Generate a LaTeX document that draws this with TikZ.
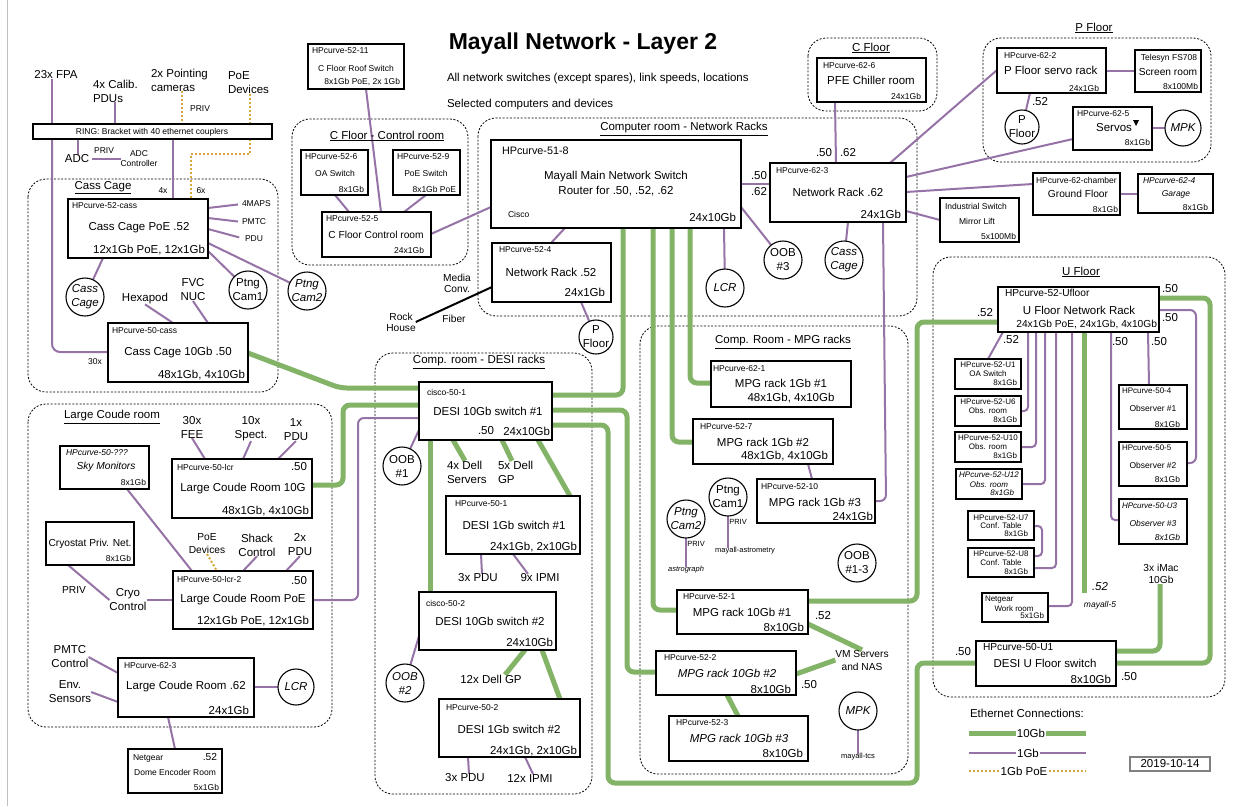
\documentclass[tikz,border=0pt]{standalone}
\usepackage{fontspec}
\setmainfont{Liberation Sans}
\usetikzlibrary{calc}
\definecolor{gre}{HTML}{82B366}
\definecolor{pur}{HTML}{9673A6}
\definecolor{yel}{HTML}{D6A838}
\pgfdeclarelayer{reg}\pgfdeclarelayer{bg}\pgfsetlayers{reg,bg,main}
\newcommand\nbox[6][]{\node[box,#1,minimum width={(#5-#3)*1pt},minimum height={(#6-#4)*1pt}] (#2) at ({(#3+#5)/2},{(#4+#6)/2}) {};}
\newcommand\ncirc[6][fM]{\node[circ,minimum size={2*#5*1pt}] (#2) at (#3,#4) {};\node[txt,align=center,#1] (#2t) at (#3,#4) {#6};}
\newcommand\tlab[5][]{\node[txt,#1] (#2) at (#3,#4) {#5};}
\tikzset{
 box/.style={draw, line width=2.3, inner sep=0, outer sep=0, fill=white},
 thinbox/.style={line width=1.1},
 datebox/.style={draw=gray, line width=1.2},
 circ/.style={circle, draw, line width=1.1, inner sep=0, outer sep=0, fill=white},
 reg/.style={draw, line width=0.8, dash pattern=on 2pt off 1.6pt, rounded corners=18},
 gl/.style={draw=gre, line width=5, rounded corners=7},
 pl/.style={draw=pur, line width=2, rounded corners=6},
 ol/.style={draw=yel, line width=2, dash pattern=on 2pt off 2pt},
 txt/.style={inner sep=0, outer sep=0},
 fM/.style={font=\fontsize{11.5}{14}\selectfont},
 fMi/.style={font=\fontsize{11.5}{14}\selectfont\itshape},
 fH/.style={font=\fontsize{10.8}{13}\selectfont},
 fX/.style={font=\fontsize{10.2}{12.5}\selectfont},
 fXi/.style={font=\fontsize{10.2}{12.5}\selectfont\itshape},
 fS/.style={font=\fontsize{8.5}{10}\selectfont},
 fSi/.style={font=\fontsize{8.5}{10}\selectfont\itshape},
 fU/.style={font=\fontsize{8}{9}\selectfont},
 fUi/.style={font=\fontsize{8}{9}\selectfont\itshape},
 fT/.style={font=\fontsize{7.5}{9}\selectfont},
 fTi/.style={font=\fontsize{7.5}{9}\selectfont\itshape},
}
\begin{document}
\begin{tikzpicture}[x=1pt,y=-1pt]
\useasboundingbox (0,0) rectangle (1250,806);
\begin{pgfonlayer}{reg}
\fill[white] (0,0) rectangle (1250,806);
\draw[gray!50, line width=1] (7,0) -- (7,806);
\draw[reg] (28,179) rectangle (278,392);
\draw[reg] (292,119) rectangle (468,265);
\draw[reg] (478,118) rectangle (917,316);
\draw[reg] (808,38) rectangle (937,111);
\draw[reg] (983,38) rectangle (1211,162);
\draw[reg] (933,257) rectangle (1225,697);
\draw[reg] (640,326) rectangle (908,774);
\draw[reg] (375,353) rectangle (592,794);
\draw[reg] (28,404) rectangle (332,727);
\end{pgfonlayer}

% ---------- titles
\tlab[font=\fontsize{23}{26}\selectfont\bfseries]{title}{583}{44}{Mayall Network - Layer 2}
\tlab[fM,anchor=west]{sub1}{447}{79}{All network switches (except spares), link speeds, locations}
\tlab[fM,anchor=west]{sub2}{447}{105}{Selected computers and devices}

% ---------- top left
\tlab[fM]{fpa}{56}{75}{23x FPA}
\tlab[fM,align=left,anchor=west]{calib}{93}{91}{4x Calib.\\PDUs}
\tlab[fM,align=left,anchor=west]{ptg}{151}{80}{2x Pointing\\cameras}
\tlab[fM,align=left,anchor=west]{poe}{228}{83}{PoE\\Devices}
\tlab[fS]{priv1}{200}{109}{PRIV}
\nbox[thinbox]{ring}{33}{124}{272}{139}
\tlab[fS]{ringt}{152}{132}{RING: Bracket with 40 ethernet couplers}
\tlab[fM]{adc}{77}{159}{ADC}
\tlab[fS]{priv2}{104}{151}{PRIV}
\tlab[fS,align=center]{adcc}{139}{159}{ADC\\Controller}
\tlab[fS]{n4x}{163}{191}{4x}
\tlab[fS]{n6x}{201}{191}{6x}
\tlab[fS]{n30x}{95}{362}{30x}

% ---------- Cass Cage
\tlab[fM]{tCass}{103}{188}{\underline{Cass Cage}}
\nbox{cc52}{68}{199}{208}{258}
\tlab[fS,anchor=west]{cc52h}{72}{206}{HPcurve-52-cass}
\tlab[fM]{cc52n}{139}{228}{Cass Cage PoE .52}
\tlab[fM,anchor=east]{cc52p}{205}{250}{12x1Gb PoE, 12x1Gb}
\tlab[fS,anchor=west]{maps}{242}{204}{4MAPS}
\tlab[fS,anchor=west]{pmtc1}{242}{222}{PMTC}
\tlab[fS,anchor=west]{pdu0}{245}{239}{PDU}
\ncirc[fMi]{ccA}{85}{297}{19}{Cass\\Cage}
\ncirc[fM]{pc1}{248}{290}{19}{Ptng\\Cam1}
\ncirc[fMi]{pc2}{307}{291}{19}{Ptng\\Cam2}
\tlab[fM]{hexa}{145}{299}{Hexapod}
\tlab[fM,align=center]{fvc}{193}{290}{FVC\\NUC}
\nbox{cc50}{108}{323}{248}{382}
\tlab[fS,anchor=west]{cc50h}{112}{331}{HPcurve-50-cass}
\tlab[fM]{cc50n}{178}{353}{Cass Cage 10Gb .50}
\tlab[fM,anchor=east]{cc50p}{245}{375}{48x1Gb, 4x10Gb}

% ---------- C Floor control room
\nbox{sw11}{308}{44}{404}{89}
\tlab[fS,anchor=west]{sw11h}{312}{51}{HPcurve-52-11}
\tlab[fS]{sw11n}{356}{68}{C Floor Roof Switch}
\tlab[fS,anchor=east]{sw11p}{400}{82}{8x1Gb PoE, 2x 1Gb}
\tlab[fM]{tCfc}{387}{136}{\underline{C Floor - Control room}}
\nbox{s526}{301}{150}{368}{195}
\tlab[fS,anchor=west]{s526h}{305}{157}{HPcurve-52-6}
\tlab[fS]{s526n}{335}{173}{OA Switch}
\tlab[fS,anchor=east]{s526p}{364}{189}{8x1Gb}
\nbox{s529}{393}{150}{460}{195}
\tlab[fS,anchor=west]{s529h}{397}{157}{HPcurve-52-9}
\tlab[fS]{s529n}{426}{173}{PoE Switch}
\tlab[fS,anchor=east]{s529p}{456}{189}{8x1Gb PoE}
\nbox{s525}{322}{212}{431}{257}
\tlab[fS,anchor=west]{s525h}{326}{219}{HPcurve-52-5}
\tlab[fX]{s525n}{376}{235}{C Floor Control room}
\tlab[fS,anchor=east]{s525p}{424}{250}{24x1Gb}

% ---------- Computer room
\tlab[fM]{tComp}{684}{129}{\underline{Computer room - Network Racks}}
\nbox{main}{491}{140}{741}{228}
\tlab[fH,anchor=west]{mainh}{502}{151}{HPcurve-51-8}
\tlab[fM]{mainn}{616}{177}{Mayall Main Network Switch}
\tlab[fM]{mainr}{616}{191}{Router for .50, .52, .62}
\tlab[fS,anchor=west]{mainc}{508}{214}{Cisco}
\tlab[fM,anchor=east]{mainp}{736}{217}{24x10Gb}
\nbox{s524}{492}{243}{611}{302}
\tlab[fS,anchor=west]{s524h}{499}{250}{HPcurve-52-4}
\tlab[fM]{s524n}{551}{272}{Network Rack .52}
\tlab[fM,anchor=east]{s524p}{605}{292}{24x1Gb}
\tlab[fX,align=center,font=\fontsize{10.2}{11}\selectfont]{media}{457}{283}{Media\\Conv.}
\tlab[fX,align=center,font=\fontsize{10.2}{11}\selectfont]{rock}{401}{322}{Rock\\House}
\tlab[fX]{fiber}{454}{319}{Fiber}
\ncirc[fM]{pfl1}{596}{337}{17}{P\\Floor}
\ncirc[fMi]{lcrc}{725}{288}{19}{LCR}
\ncirc[fM]{oob3}{783}{260}{19}{OOB\\\#3}
\ncirc[fMi]{ccB}{844}{260}{19}{Cass\\Cage}
\nbox{s623}{770}{163}{906}{222}
\tlab[fS,anchor=west]{s623h}{776}{171}{HPcurve-62-3}
\tlab[fM]{s623n}{838}{192}{Network Rack .62}
\tlab[fM,anchor=east]{s623p}{901}{214}{24x1Gb}
\tlab[fM]{l50a}{759}{176}{.50}
\tlab[fM]{l62a}{759}{192}{.62}
\tlab[fM]{l50b}{824}{153}{.50}
\tlab[fM]{l62b}{848}{153}{.62}

% ---------- C Floor
\tlab[fM]{tCf}{871}{48}{\underline{C Floor}}
\nbox{s626}{817}{58}{926}{102}
\tlab[fS,anchor=west]{s626h}{823}{66}{HPcurve-62-6}
\tlab[fM]{s626n}{871}{80}{PFE Chiller room}
\tlab[fS,anchor=east]{s626p}{921}{96}{24x1Gb}

% ---------- P Floor
\tlab[fM]{tPf}{1094}{28}{\underline{P Floor}}
\nbox{s622}{997}{48}{1106}{93}
\tlab[fS,anchor=west]{s622h}{1004}{56}{HPcurve-62-2}
\tlab[fM,anchor=west]{s622n}{1004}{70}{P Floor servo rack}
\tlab[fS,anchor=east]{s622p}{1099}{88}{24x1Gb}
\nbox{tel}{1135}{50}{1201}{92}
\tlab[fS]{telh}{1169}{58}{Telesyn FS708}
\tlab[fX]{teln}{1168}{72}{Screen room}
\tlab[fS,anchor=east]{telp}{1198}{86}{8x100Mb}
\ncirc[fM]{pfl2}{1022}{127}{17}{P\\Floor}
\tlab[fM]{l52p}{1040}{102}{.52}
\nbox{s625}{1073}{107}{1152}{150}
\tlab[fS,anchor=west]{s625h}{1077}{114}{HPcurve-62-5}
\tlab[fM]{s625n}{1114}{128}{Servos}
\fill (1133,120) -- (1139,120) -- (1136,126) -- cycle;
\tlab[fS,anchor=east]{s625p}{1150}{142}{8x1Gb}
\ncirc[fMi]{mpk1}{1183}{128}{18}{MPK}
\nbox{cham}{1033}{173}{1120}{215}
\tlab[fS,anchor=west]{chamh}{1036}{180}{HPcurve-62-chamber}
\tlab[fX]{chamn}{1078}{194}{Ground Floor}
\tlab[fS,anchor=east]{champ}{1118}{209}{8x1Gb}
\nbox{gar}{1138}{174}{1213}{213}
\tlab[fSi,anchor=west]{garh}{1143}{181}{HPcurve-62-4}
\tlab[fSi]{garn}{1176}{194}{Garage}
\tlab[fS,anchor=east]{garp}{1208}{207}{8x1Gb}
\nbox{ind}{940}{198}{1019}{242}
\tlab[fS]{indh}{976}{206}{Industrial Switch}
\tlab[fS]{indn}{977}{221}{Mirror Lift}
\tlab[fS,anchor=east]{indp}{1016}{236}{5x100Mb}

% ---------- U Floor
\tlab[fM]{tUf}{1081}{272}{\underline{U Floor}}
\nbox{uf}{998}{287}{1159}{332}
\tlab[fX,anchor=west]{ufh}{1005}{293}{HPcurve-52-Ufloor}
\tlab[fM]{ufn}{1079}{310}{U Floor Network Rack}
\tlab[fX,anchor=east]{ufp}{1157}{324}{24x1Gb PoE, 24x1Gb, 4x10Gb}
\tlab[fM]{lu1}{1170}{289}{.50}
\tlab[fM]{lu2}{1170}{318}{.50}
\tlab[fM]{lu3}{985}{313}{.52}
\tlab[fM]{lu4}{1011}{340}{.52}
\tlab[fM]{lu5}{1120}{342}{.50}
\tlab[fM]{lu6}{1159}{342}{.50}
\nbox{u1}{955}{359}{1021}{389}
\tlab[fU]{u1h}{988}{365}{HPcurve-52-U1}
\tlab[fU]{u1n}{988}{374}{OA Switch}
\tlab[fU,anchor=east]{u1p}{1017}{383}{8x1Gb}
\nbox{u6}{955}{396}{1021}{426}
\tlab[fU]{u6h}{988}{402}{HPcurve-52-U6}
\tlab[fU]{u6n}{988}{411}{Obs. room}
\tlab[fU,anchor=east]{u6p}{1017}{420}{8x1Gb}
\nbox{u10}{955}{432}{1021}{462}
\tlab[fU]{u10h}{988}{438}{HPcurve-52-U10}
\tlab[fU]{u10n}{988}{447}{Obs. room}
\tlab[fU,anchor=east]{u10p}{1017}{456}{8x1Gb}
\nbox{u12}{956}{469}{1022}{499}
\tlab[fUi]{u12h}{989}{475}{HPcurve-52-U12}
\tlab[fUi]{u12n}{989}{485}{Obs. room}
\tlab[fUi,anchor=east]{u12p}{1014}{493}{8x1Gb}
\nbox{u7}{968}{511}{1034}{540}
\tlab[fU]{u7h}{1001}{518}{HPcurve-52-U7}
\tlab[fU]{u7n}{1001}{526}{Conf. Table}
\tlab[fU,anchor=east]{u7p}{1028}{534}{8x1Gb}
\nbox{u8}{968}{548}{1034}{577}
\tlab[fU]{u8h}{1001}{554}{HPcurve-52-U8}
\tlab[fU]{u8n}{1001}{563}{Conf. Table}
\tlab[fU,anchor=east]{u8p}{1028}{572}{8x1Gb}
\nbox{ngw}{982}{593}{1048}{622}
\tlab[fU,anchor=west]{ngwh}{985}{600}{Netgear}
\tlab[fU]{ngwn}{1014}{609}{Work room}
\tlab[fU,anchor=east]{ngwp}{1044}{616}{5x1Gb}
\nbox{o1}{1119}{385}{1187}{429}
\tlab[fU,anchor=west]{o1h}{1122}{391}{HPcurve-50-4}
\tlab[fS]{o1n}{1153}{408}{Observer \#1}
\tlab[fS,anchor=east]{o1p}{1180}{424}{8x1Gb}
\nbox{o2}{1119}{442}{1187}{486}
\tlab[fU,anchor=west]{o2h}{1122}{448}{HPcurve-50-5}
\tlab[fS]{o2n}{1153}{465}{Observer \#2}
\tlab[fS,anchor=east]{o2p}{1180}{479}{8x1Gb}
\nbox{o3}{1119}{499}{1187}{544}
\tlab[fUi,anchor=west]{o3h}{1122}{506}{HPcurve-50-U3}
\tlab[fSi]{o3n}{1153}{523}{Observer \#3}
\tlab[fSi,anchor=east]{o3p}{1180}{537}{8x1Gb}
\tlab[fMi]{l52m5}{1100}{587}{.52}
\tlab[fSi]{m5}{1100}{605}{mayall-5}
\tlab[fX,align=center]{imac}{1161}{574}{3x iMac\\10Gb}
\nbox{duf}{976}{641}{1116}{686}
\tlab[fX,anchor=west]{dufh}{983}{647}{HPcurve-50-U1}
\tlab[fM]{dufn}{1045}{663}{DESI U Floor switch}
\tlab[fM,anchor=east]{dufp}{1111}{679}{8x10Gb}
\tlab[fM]{ld1}{963}{652}{.50}
\tlab[fM]{ld2}{1129}{677}{.50}

% ---------- MPG racks
\tlab[fM]{tMpg}{783}{342}{\underline{Comp. Room - MPG racks}}
\nbox{m621}{711}{361}{851}{407}
\tlab[fS,anchor=west]{m621h}{713}{369}{HPcurve-62-1}
\tlab[fM]{m621n}{781}{383}{MPG rack 1Gb \#1}
\tlab[fM]{m621p}{791}{398}{48x1Gb, 4x10Gb}
\nbox{m527}{693}{419}{833}{464}
\tlab[fS,anchor=west]{m527h}{700}{427}{HPcurve-52-7}
\tlab[fM]{m527n}{763}{442}{MPG rack 1Gb \#2}
\tlab[fM,anchor=east]{m527p}{828}{456}{48x1Gb, 4x10Gb}
\nbox{m5210}{757}{479}{875}{523}
\tlab[fS,anchor=west]{m5210h}{761}{487}{HPcurve-52-10}
\tlab[fM]{m5210n}{815}{502}{MPG rack 1Gb \#3}
\tlab[fM,anchor=east]{m5210p}{873}{516}{24x1Gb}
\ncirc[fM]{pc1b}{728}{497}{19}{Ptng\\Cam1}
\ncirc[fMi]{pc2b}{686}{519}{19}{Ptng\\Cam2}
\tlab[fT]{priv3}{738}{522}{PRIV}
\tlab[fT]{astm}{745}{551}{mayall-astrometry}
\tlab[fT]{priv4}{696}{544}{PRIV}
\tlab[fTi]{astg}{686}{570}{astrograph}
\ncirc[fM]{oob13}{857}{563}{19}{OOB\\\#1-3}
\nbox{m521}{677}{590}{808}{634}
\tlab[fS,anchor=west]{m521h}{683}{597}{HPcurve-52-1}
\tlab[fM]{m521n}{742}{612}{MPG rack 10Gb \#1}
\tlab[fM,anchor=east]{m521p}{804}{627}{8x10Gb}
\tlab[fM]{l52mm}{823}{616}{.52}
\tlab[fX,align=center,font=\fontsize{10.2}{13}\selectfont]{vm}{862}{660}{VM Servers\\and NAS}
\nbox{m522}{656}{651}{796}{695}
\tlab[fS,anchor=west]{m522h}{664}{658}{HPcurve-52-2}
\tlab[fMi]{m522n}{727}{673}{MPG rack 10Gb \#2}
\tlab[fM,anchor=east]{m522p}{791}{689}{8x10Gb}
\tlab[fM]{l50mm}{809}{685}{.50}
\nbox{m523}{669}{716}{808}{761}
\tlab[fS,anchor=west]{m523h}{676}{723}{HPcurve-52-3}
\tlab[fMi]{m523n}{739}{738}{MPG rack 10Gb \#3}
\tlab[fM,anchor=east]{m523p}{803}{753}{8x10Gb}
\ncirc[fMi]{mpk2}{858}{711}{19}{MPK}
\tlab[fT]{tcs}{858}{757}{mayall-tcs}

% ---------- DESI racks
\tlab[fM]{tDesi}{479}{362}{\underline{Comp. room - DESI racks}}
\nbox{c501}{419}{382}{552}{440}
\tlab[fS,anchor=west]{c501h}{427}{392}{cisco-50-1}
\tlab[fM]{c501n}{488}{411}{DESI 10Gb switch \#1}
\tlab[fM]{c501a}{486}{431}{.50}
\tlab[fM,anchor=east]{c501p}{550}{431}{24x10Gb}
\ncirc[fM]{oob1}{402}{466}{19}{OOB\\\#1}
\tlab[fM,align=left,anchor=west]{dell4}{447}{472}{4x Dell\\Servers}
\tlab[fM,align=left,anchor=west]{dell5}{498}{472}{5x Dell\\GP}
\nbox{d501}{446}{496}{580}{554}
\tlab[fS,anchor=west]{d501h}{455}{504}{HPcurve-50-1}
\tlab[fM]{d501n}{514}{525}{DESI 1Gb switch \#1}
\tlab[fM,anchor=east]{d501p}{577}{547}{24x1Gb, 2x10Gb}
\tlab[fM]{pdu3a}{478}{578}{3x PDU}
\tlab[fM]{ipmi9}{540}{578}{9x IPMI}
\nbox{c502}{419}{592}{556}{650}
\tlab[fS,anchor=west]{c502h}{426}{603}{cisco-50-2}
\tlab[fM]{c502n}{490}{621}{DESI 10Gb switch \#2}
\tlab[fM,anchor=east]{c502p}{553}{642}{24x10Gb}
\ncirc[fMi]{oob2}{405}{683}{19}{OOB\\\#2}
\tlab[fM]{dell12}{491}{679}{12x Dell GP}
\nbox{d502}{439}{699}{580}{757}
\tlab[fS,anchor=west]{d502h}{446}{708}{HPcurve-50-2}
\tlab[fM]{d502n}{509}{729}{DESI 1Gb switch \#2}
\tlab[fM,anchor=east]{d502p}{577}{751}{24x1Gb, 2x10Gb}
\tlab[fM]{pdu3b}{465}{778}{3x PDU}
\tlab[fM]{ipmi12}{530}{778}{12x IPMI}

% ---------- Large Coude room
\tlab[fM]{tLcr}{112}{417}{\underline{Large Coude room}}
\nbox{sky}{60}{446}{149}{489}
\tlab[fSi,anchor=west]{skyh}{66}{453}{HPcurve-50-???}
\tlab[fXi]{skyn}{106}{467}{Sky Monitors}
\tlab[fS,anchor=east]{skyp}{146}{482}{8x1Gb}
\nbox{lcr}{172}{459}{312}{518}
\tlab[fS,anchor=west]{lcrh}{177}{467}{HPcurve-50-lcr}
\tlab[fM,anchor=east]{lcra}{307}{467}{.50}
\tlab[fM]{lcrn}{243}{489}{Large Coude Room 10G}
\tlab[fM,anchor=east]{lcrp}{309}{511}{48x1Gb, 4x10Gb}
\tlab[fM,align=center]{fee}{192}{427}{30x\\FEE}
\tlab[fM,align=center]{spect}{251}{429}{10x\\Spect.}
\tlab[fM,align=center]{pdu1}{296}{430}{1x\\PDU}
\nbox{cryo}{46}{522}{134}{565}
\tlab[fX]{cryon}{90}{544}{Cryostat Priv. Net.}
\tlab[fS,anchor=east]{cryop}{131}{558}{8x1Gb}
\tlab[fX]{priv5}{74}{590}{PRIV}
\tlab[fM,align=center]{cryoc}{128}{600}{Cryo\\Control}
\tlab[fX,align=center,font=\fontsize{10.2}{13}\selectfont]{poed}{207}{544}{PoE\\Devices}
\tlab[fM,align=center]{shack}{257}{545}{Shack\\Control}
\tlab[fM,align=center]{pdu2}{300}{545}{2x\\PDU}
\nbox{lcr2}{173}{571}{313}{629}
\tlab[fS,anchor=west]{lcr2h}{177}{579}{HPcurve-50-lcr-2}
\tlab[fM,anchor=east]{lcr2a}{307}{581}{.50}
\tlab[fM]{lcr2n}{243}{600}{Large Coude Room PoE}
\tlab[fM,anchor=east]{lcr2p}{309}{621}{12x1Gb PoE, 12x1Gb}
\tlab[fM,align=center]{pmtc2}{70}{657}{PMTC\\Control}
\tlab[fM,align=center]{env}{70}{692}{Env.\\Sensors}
\nbox{lcr62}{118}{658}{254}{717}
\tlab[fS,anchor=west]{lcr62h}{124}{666}{HPcurve-62-3}
\tlab[fM]{lcr62n}{186}{687}{Large Coude Room .62}
\tlab[fM,anchor=east]{lcr62p}{249}{710}{24x1Gb}
\ncirc[fMi]{lcrc2}{296}{687}{18}{LCR}
\nbox{dome}{128}{749}{222}{793}
\tlab[fS,anchor=west]{domeh}{133}{758}{Netgear}
\tlab[fX,anchor=east]{domea}{217}{757}{.52}
\tlab[fS]{domen}{175}{772}{Dome Encoder Room}
\tlab[fS,anchor=east]{domep}{219}{787}{5x1Gb}

% ---------- legend
\tlab[fM,anchor=west]{legt}{970}{713}{Ethernet Connections:}
\coordinate (lg1a) at (969,733); \coordinate (lg1b) at (1086,733);
\coordinate (lg2a) at (969,753); \coordinate (lg2b) at (1086,753);
\coordinate (lg3a) at (969,771); \coordinate (lg3b) at (1086,771);
\tlab[fM,fill=white,inner xsep=1]{lg10}{1031}{733}{10Gb}
\tlab[fM,fill=white,inner xsep=1]{lg1}{1028}{753}{1Gb}
\tlab[fM,fill=white,inner xsep=1]{lg1p}{1024}{771}{1Gb PoE}
\nbox[datebox]{date}{1130}{757}{1210}{771}
\tlab[fM]{datet}{1170}{764}{2019-10-14}

% ================= connectors
\begin{pgfonlayer}{bg}
% top left
\draw[pl] (fpa.south -| 52,0) -- (ring.north -| 52,0);
\draw[pl,rounded corners=8] (ring.south -| 52,0) |- (cc50.west |- 0,352);
\draw[pl] (calib.south -| 115,0) -- (ring.north -| 115,0);
\draw[ol] (ptg.south -| 182,0) -- (ring.north -| 182,0);
\draw[ol] (poe.south -| 250,0) -- (ring.north -| 250,0);
\draw[ol] (ring.south -| 250,0) -- (250,154) -- (191,154) -- (cc52.north -| 191,0);
\draw[pl] (ring.south -| 173,0) -- (cc52.north -| 173,0);
\draw[pl] (ring.south -| 78,0) -- (adc.north -| 78,0);
\draw[pl,shorten <=3] (adc.east) -- (adcc.west |- adc.east);
% cass cage
\draw[pl,shorten >=4] (cc52.east |- 0,208) -- (maps.west);
\draw[pl,shorten >=4] (cc52.east |- 0,218) -- (pmtc1.west);
\draw[pl,shorten >=6] (cc52.east |- 0,229) -- (pdu0.west);
\draw[pl] (cc52.east |- 0,251) -- (pc1);
\draw[pl] (cc52.east |- 0,243) -- (pc2);
\draw[pl] (cc52.south -| 103,0) -- (ccA);
\draw[pl] (hexa.south) -- (cc50.north -| 173,0);
\draw[pl] (fvc.south) -- (cc50.north -| 208,0);
\draw[gl] (cc50.east |- 0,353) -- (340,388) -- (c501.west |- 0,388);
% c floor / computer room
\draw[pl] (sw11.south -| 366,0) -- (s525.north -| 381,0);
\draw[pl] (s526.south -| 335,0) -- (s525.north -| 349,0);
\draw[pl] (s529.south -| 426,0) -- (s525.north -| 404,0);
\draw[pl] (s525.east |- 0,234) -- (main.west |- 0,207);
\draw[pl] (main.south -| 565,0) -- (s524.north -| 551,0);
\draw[pl] (s524.south -| 581,0) -- (pfl1);
\draw[black, line width=2] (s524.west |- 0,287) -- (rock.east);
\draw[pl] (main.south -| 724,0) -- (lcrc);
\draw[pl] (main.east |- 0,207) -- (oob3);
\draw[pl] (main.east |- 0,184) -- (s623.west |- 0,184);
\draw[pl] (s626.south -| 835,0) -- (s623.north -| 836,0);
\draw[pl] (s623.south -| 848,0) -- (ccB);
\draw[pl] (s623.north -| 890,0) -- (s622.west |- 0,70);
\draw[pl] (s623.east |- 0,177) -- (s625.west |- 0,139);
\draw[pl] (s623.east |- 0,192) -- (cham.west |- 0,184);
\draw[pl] (s623.east |- 0,211) -- (ind.west |- 0,220);
\draw[pl] (s622.east |- 0,71) -- (tel.west |- 0,71);
\draw[pl] (s622.south -| 1030,0) -- (pfl2);
\draw[pl] (s625.east |- 0,128) -- (mpk1);
\draw[pl] (cham.east |- 0,194) -- (gar.west |- 0,194);
\draw[pl] (s623.south -| 883,0) -- (886,501) -- (m5210.east |- 0,501);
% U floor
\draw[pl] (uf.south -| 1003,0) -- (u1.north -| 988,0);
\draw[pl,rounded corners=4] (uf.south -| 1028,0) |- (u6.east |- 0,411);
\draw[pl,rounded corners=4] (uf.south -| 1036,0) |- (u10.east |- 0,447);
\draw[pl,rounded corners=4] (uf.south -| 1045,0) |- (u12.east |- 0,484);
\draw[pl,rounded corners=4] (u7.east |- 0,526) -- (1042,526) -- (1042,556) -- (u8.east |- 0,556);
\draw[pl,rounded corners=4] (uf.south -| 1056,0) |- (u8.east |- 0,568);
\draw[pl,rounded corners=4] (uf.south -| 1072,0) |- (ngw.east |- 0,606);
\coordinate (m5end) at (1084,593);
\draw[gl] (uf.south -| 1084,0) -- (m5end);
\draw[pl,rounded corners=4] (uf.south -| 1111,0) |- (o3.west |- 0,520);
\draw[pl] (uf.south -| 1148,0) -- (o1.north -| 1149,0);
\draw[pl] (uf.east |- 0,310) -- (1196,310) -- (1196,463) -- (o2.east |- 0,463);
\draw[gl] (uf.east |- 0,298) -- (1210,298) -- (1210,663) -- (duf.east |- 0,663);
\draw[gl] (duf.east |- 0,651) -- (1160,651) -- (imac.south -| 1160,0);
\draw[gl] (m521.east |- 0,601) -- (917,601) -- (917,322) -- (uf.west |- 0,322);
% green trunks
\draw[gl] (c501.east |- 0,425) -- (608,425) -- (608,783) -- (917,783) -- (917,663) -- (duf.west |- 0,663);
\draw[gl] (c501.east |- 0,395) -- (623,395) -- (main.south -| 623,0);
\draw[gl] (c501.east |- 0,410) -- (627,410) -- (627,672) -- (m522.west |- 0,672);
\draw[gl] (main.south -| 653,0) -- (653,610) -- (m521.west |- 0,610);
\draw[gl] (main.south -| 672,0) -- (672,442) -- (m527.west |- 0,442);
\draw[gl] (main.south -| 690,0) -- (690,383) -- (m621.west |- 0,383);
% MPG
\draw[gl] (m521.east |- 0,624) -- (vm.north);
\draw[gl] (m522.east |- 0,674) -- (vm.west);
\draw[gl] (m522.south -| 727,0) -- (m523.north -| 738,0);
\draw[pl] (pc1b) -- (astm.north -| pc1b);
\draw[pl] (pc2b) -- (astg.north -| pc2b);
\draw[pl] (mpk2) -- (tcs.north -| mpk2);
\draw[pl] (m527.south -| 808,0) -- (m5210.north -| 812,0);
% DESI
\draw[gl] (lcr.east |- 0,485) -- (343,485) -- (343,405) -- (c501.west |- 0,405);
\draw[pl] (lcr2.east |- 0,600) -- (358,600) -- (358,418) -- (c501.west |- 0,418);
\draw[pl] (c501.west |- 0,430) -- (oob1);
\draw[gl] (c501.south -| 453,0) -- (dell4.north -| 465,0);
\draw[gl] (c501.south -| 502,0) -- (dell5.north -| 512,0);
\draw[gl] (c501.south -| 538,0) -- (d501.north -| 570,0);
\draw[gl] (c501.south -| 430,0) -- (c502.north -| 430,0);
\draw[pl] (d501.south -| 481,0) -- (pdu3a.north -| 482,0);
\draw[pl] (d501.south -| 513,0) -- (ipmi9.north -| 528,0);
\draw[pl] (c502.west |- 0,636) -- (oob2);
\draw[gl] (c502.south -| 525,0) -- (dell12.north -| 505,0);
\draw[gl] (c502.south -| 542,0) -- (d502.north -| 560,0);
\draw[pl] (d502.south -| 468,0) -- (pdu3b.north -| 469,0);
\draw[pl] (d502.south -| 525,0) -- (ipmi12.north -| 533,0);
% Large Coude
\draw[pl] (fee.south) -- (lcr.north -| 205,0);
\draw[pl] (spect.south) -- (lcr.north -| 243,0);
\draw[pl] (pdu1.south) -- (lcr.north -| 278,0);
\draw[pl] (sky.south -| 127,0) -- (lcr2.north -| 192,0);
\draw[ol] (poed.south) -- (lcr2.north -| 217,0);
\draw[pl] (shack.south) -- (lcr2.north -| 243,0);
\draw[pl] (pdu2.south) -- (lcr2.north -| 286,0);
\draw[pl] (cryo.south -| 68,0) -- (cryoc.west);
\draw[pl] (cryoc.east) -- (lcr2.west |- 0,600);
\draw[pl] (pmtc2.east) -- (lcr62.west |- 0,673);
\draw[pl] (env.east) -- (lcr62.west |- 0,702);
\draw[pl] (lcr62.east |- 0,687) -- (lcrc2);
\draw[pl] (lcr62.south -| 168,0) -- (dome.north -| 175,0);
% legend
\draw[gl,rounded corners=0] (lg1a) -- (lg1b);
\draw[pl,rounded corners=0] (lg2a) -- (lg2b);
\draw[ol] (lg3a) -- (lg3b);
\end{pgfonlayer}
\end{tikzpicture}
\end{document}
